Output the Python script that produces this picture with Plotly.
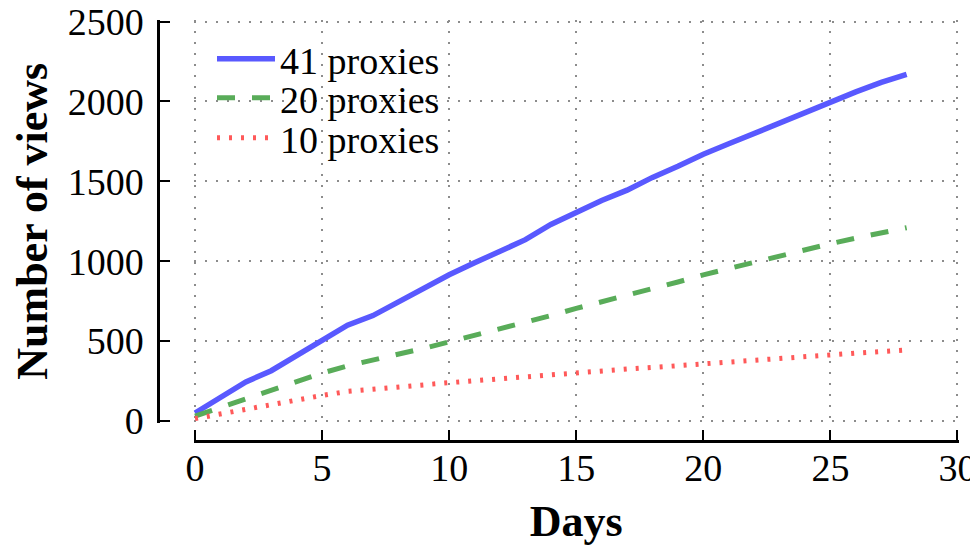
import plotly.graph_objects as go

days = list(range(29))
views_41 = [50, 150, 245, 315, 410, 505, 600, 660, 745, 830, 915, 990, 1065, 1135,
            1230, 1305, 1380, 1445, 1525, 1595, 1670, 1735, 1800, 1865, 1930, 2000,
            2060, 2120, 2170]
views_20 = [30, 85, 135, 190, 245, 300, 345, 380, 420, 455, 495, 535, 575, 620, 660,
            705, 745, 790, 830, 870, 915, 955, 995, 1035, 1075, 1110, 1145, 1180, 1210]
views_10 = [15, 45, 75, 105, 135, 160, 185, 200, 215, 228, 240, 252, 265, 278, 292,
            305, 315, 325, 335, 347, 360, 372, 383, 393, 405, 415, 425, 435, 445]
series_names = ["41 proxies", "20 proxies", "10 proxies"]
x_ticks = [0, 5, 10, 15, 20, 25, 30]
y_ticks = [0, 500, 1000, 1500, 2000, 2500]

FONT = "Liberation Serif"
OFF = 8                         # default page body margin
W, H = 978 - OFF, 546 - OFF
ML, MR, MT, MB = 150, 19, 12, 105
PW, PH = W - ML - MR, H - MT - MB


def px_x(page_x):
    return (page_x - OFF - ML) / PW


def px_y(page_y):
    return (H - MB - (page_y - OFF)) / PH


fig = go.Figure()
fig.add_trace(go.Scatter(x=days, y=views_41, mode="lines", name=series_names[0],
                         line=dict(color="#5959ff", width=5.5), legend="legend"))
fig.add_trace(go.Scatter(x=days, y=views_20, mode="lines", name=series_names[1],
                         line=dict(color="#59ac59", width=5, dash="18px,17px"),
                         legend="legend2"))
fig.add_trace(go.Scatter(x=days, y=views_10, mode="lines", name=series_names[2],
                         line=dict(color="#ff5959", width=5, dash="3px,9px"),
                         legend="legend3"))

leg_common = dict(x=px_x(212), xanchor="left", yanchor="middle",
                  bgcolor="rgba(0,0,0,0)", borderwidth=0, itemwidth=58,
                  font=dict(family=FONT, size=38, color="black"))
grid_style = dict(showgrid=True, gridcolor="#8c8c8c", gridwidth=1.5, griddash="2px,9px")
tick_style = dict(ticks="inside", ticklen=10, tickwidth=2, tickcolor="black",
                  showline=True, linecolor="black", linewidth=2.5,
                  zeroline=False, automargin=False, ticklabeloverflow="allow",
                  tickfont=dict(family=FONT, size=38, color="black"))

fig.update_layout(
    width=W, height=H,
    margin=dict(l=ML, r=MR, t=MT, b=MB),
    paper_bgcolor="white", plot_bgcolor="white",
    showlegend=True,
    legend=dict(y=px_y(59), **leg_common),
    legend2=dict(y=px_y(98), **leg_common),
    legend3=dict(y=px_y(138), **leg_common),
    xaxis=dict(
        domain=[px_x(193.5), 1], range=[-0.06, 30.06], anchor="free", position=0,
        tickvals=x_ticks, ticklabelstandoff=-7, **tick_style, **grid_style,
        title=dict(text="<b>Days</b>", standoff=22,
                   font=dict(family=FONT, size=44, color="black")),
    ),
    yaxis=dict(
        domain=[px_y(422.6), 1], range=[-10, 2510], anchor="free", position=0,
        tickvals=y_ticks, ticklabelstandoff=6, **tick_style, **grid_style,
        title=dict(text="<b>Number of views</b>", standoff=32,
                   font=dict(family=FONT, size=44, color="black")),
    ),
)

fig.write_html("out.html")
